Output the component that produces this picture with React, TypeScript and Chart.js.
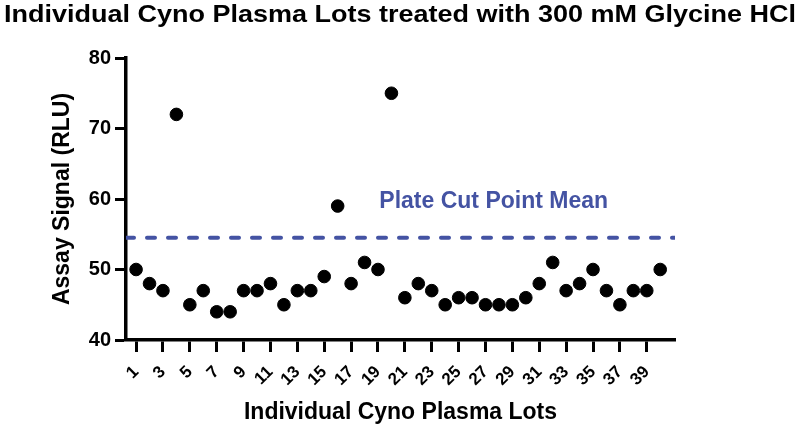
import { useEffect, useRef } from "react";
import { Chart, registerables } from "chart.js";

Chart.register(...registerables);

const chartTitle = "Individual Cyno Plasma Lots treated with 300 mM Glycine HCl";
const xTitle = "Individual Cyno Plasma Lots";
const yTitle = "Assay Signal (RLU)";
const cutPointLabel = "Plate Cut Point Mean";

// lot number 1..40 and measured signal
const lots = [
  1, 2, 3, 4, 5, 6, 7, 8, 9, 10, 11, 12, 13, 14, 15, 16, 17, 18, 19, 20,
  21, 22, 23, 24, 25, 26, 27, 28, 29, 30, 31, 32, 33, 34, 35, 36, 37, 38, 39, 40,
];
const signal = [
  50, 48, 47, 72, 45, 47, 44, 44, 47, 47, 48, 45, 47, 47, 49, 59, 48, 51, 50, 75,
  46, 48, 47, 45, 46, 46, 45, 45, 45, 46, 48, 51, 47, 48, 50, 47, 45, 47, 47, 50,
];
const xTicks = [1, 3, 5, 7, 9, 11, 13, 15, 17, 19, 21, 23, 25, 27, 29, 31, 33, 35, 37, 39];
const xRange = [0.25, 41.1];
const yRange = [40, 80];
const cutPoint = 54.5;
const cutLabelAt = [19.1, 59.6];

const BLUE = "#4453a3";
const FONT = "'Liberation Sans', Arial, sans-serif";

export default function App() {
  const canvasRef = useRef<HTMLCanvasElement>(null);
  const chartRef = useRef<Chart | null>(null);

  useEffect(() => {
    document.body.style.margin = "0";
    if (!canvasRef.current) return;
    if (chartRef.current) chartRef.current.destroy();

    Chart.defaults.font.family = FONT;
    Chart.defaults.color = "#000";

    const overlay = {
      id: "overlay",
      afterDraw(chart: any) {
        const { ctx, scales } = chart;
        ctx.save();
        // main title, stretched a little to the original's wide bold face
        ctx.fillStyle = "#000";
        ctx.font = `bold 24px ${FONT}`;
        ctx.textAlign = "center";
        ctx.textBaseline = "middle";
        const w = ctx.measureText(chartTitle).width;
        const sx = 792 / w;
        ctx.translate(400, 15);
        ctx.scale(sx, 1);
        ctx.fillText(chartTitle, 0, 0);
        ctx.restore();

        ctx.save();
        ctx.fillStyle = BLUE;
        ctx.font = `bold 23px ${FONT}`;
        ctx.textAlign = "left";
        ctx.textBaseline = "middle";
        ctx.fillText(
          cutPointLabel,
          scales.x.getPixelForValue(cutLabelAt[0]),
          scales.y.getPixelForValue(cutLabelAt[1])
        );
        ctx.restore();
      },
    };

    chartRef.current = new Chart(canvasRef.current, {
      type: "scatter",
      data: {
        datasets: [
          {
            data: lots.map((l, i) => ({ x: l, y: signal[i] })),
            backgroundColor: "#000",
            borderColor: "#000",
            pointRadius: 6.3,
            pointHoverRadius: 6.3,
          },
          {
            type: "line",
            data: xRange.map((x) => ({ x, y: cutPoint })),
            borderColor: BLUE,
            borderWidth: 4,
            borderDash: [8, 13],
            borderCapStyle: "round",
            pointRadius: 0,
            fill: false,
          } as any,
        ],
      },
      options: {
        animation: false,
        responsive: false,
        layout: { padding: { top: 58, right: 125, left: 0, bottom: 0 } },
        plugins: {
          legend: { display: false },
          tooltip: { enabled: false },
          title: { display: false },
        },
        scales: {
          x: {
            type: "linear",
            min: xRange[0],
            max: xRange[1],
            afterBuildTicks: (scale: any) => {
              scale.ticks = xTicks.map((v) => ({ value: v }));
            },
            afterFit: (scale: any) => {
              scale.height = 91;
            },
            ticks: {
              autoSkip: false,
              minRotation: 45,
              maxRotation: 45,
              padding: 10,
              color: "#000",
              font: { size: 17, weight: "bold" },
              callback: (v: any) => String(v),
            },
            grid: {
              drawOnChartArea: false,
              drawTicks: true,
              tickLength: 12,
              tickWidth: 3,
              tickColor: "#000",
            },
            border: { color: "#000", width: 3.5 },
            title: {
              display: true,
              text: xTitle,
              color: "#000",
              font: { size: 23, weight: "bold" },
              padding: { top: 0, bottom: 5 },
            },
          },
          y: {
            min: yRange[0],
            max: yRange[1],
            afterFit: (scale: any) => {
              scale.width = 126;
            },
            ticks: {
              stepSize: 10,
              padding: 4,
              color: "#000",
              font: { size: 20, weight: "bold" },
            },
            grid: {
              drawOnChartArea: false,
              drawTicks: true,
              tickLength: 11,
              tickWidth: 3,
              tickColor: "#000",
            },
            border: { color: "#000", width: 3.5 },
            title: {
              display: true,
              text: yTitle,
              color: "#000",
              font: { size: 23, weight: "bold" },
              padding: { top: 49, bottom: 0 },
            },
          },
        },
      },
      plugins: [overlay],
    });

    return () => {
      if (chartRef.current) {
        chartRef.current.destroy();
        chartRef.current = null;
      }
    };
  }, []);

  return (
    <div style={{ width: 800, height: 431 }}>
      <canvas ref={canvasRef} width={800} height={431}></canvas>
    </div>
  );
}
